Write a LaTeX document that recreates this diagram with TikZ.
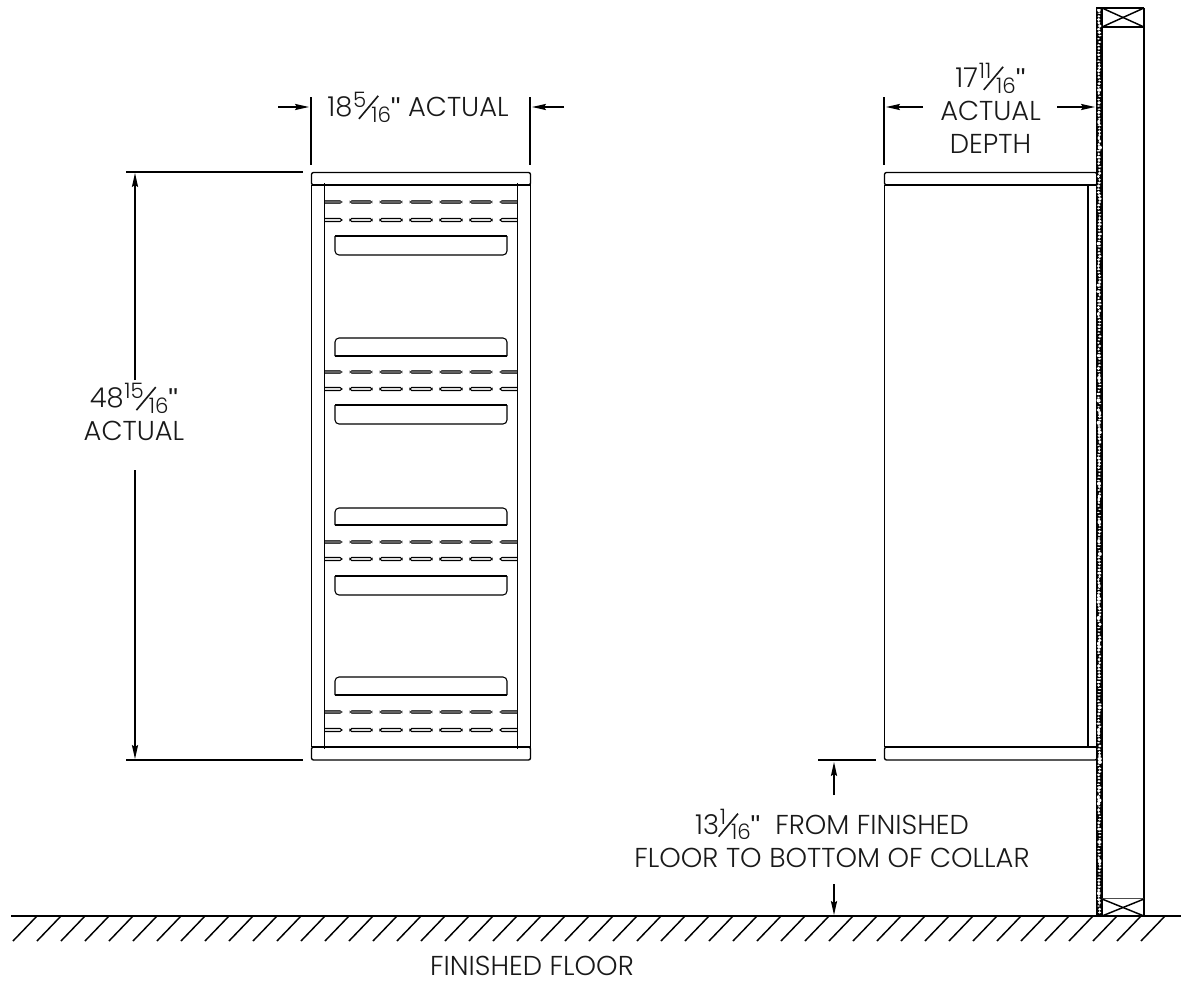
\documentclass[tikz,border=0pt]{standalone}
\usepackage{fontspec}
\setmainfont{Poppins Light}
\newfontfamily\inchfont{Liberation Sans}
\usetikzlibrary{arrows.meta}
\newcommand{\inch}{{\inchfont"}}
\newcommand{\frc}[2]{\kern0.03em\raisebox{0.35em}{\scalebox{0.78}{#1}}\kern-0.1em\makebox[0.36em]{\raisebox{-0.1em}{\rotatebox{50}{\rule{1.1em}{0.06em}}}}\kern-0.08em\raisebox{-0.2em}{\scalebox{0.78}{#2}}}
\tikzset{
 x=0.75pt,y=-0.75pt,
 dim/.style={line width=1.1pt,-{Stealth[length=10.5pt,width=4.6pt,inset=1.5pt]}},
 ext/.style={line width=1.1pt},
 thin line/.style={line width=0.8pt},
 lbl/.style={font=\fontsize{20.5pt}{24.6pt}\selectfont,inner sep=0pt,align=center,text=black!90},
 lblone/.style={font=\fontsize{20.5pt}{24.6pt}\selectfont,inner sep=0pt,text=black!90},
 collar/.style={line width=1pt,rounded corners=1.5pt},
}
\newcommand{\slotrow}[1]{%
 \foreach \a/\b in {350/372,380/402,410/432,440/462,470/492}{
  \draw[line width=0.7pt,draw=black!75,fill=black!60,rounded corners=1.3pt] (\a,#1-1.3) rectangle (\b,#1+1.3);}
 \draw[line width=0.7pt,draw=black!75,fill=black!60] (325,#1-1.3) -- (340,#1-1.3) -- (342,#1) -- (340,#1+1.3) -- (325,#1+1.3);
 \draw[line width=0.7pt,draw=black!75,fill=black!60] (517,#1-1.3) -- (502,#1-1.3) -- (500,#1) -- (502,#1+1.3) -- (517,#1+1.3);
}
\newcommand{\slotrowo}[1]{%
 \foreach \a/\b in {350/372,380/402,410/432,440/462,470/492}{
  \draw[line width=0.8pt,fill=white,rounded corners=1.3pt] (\a,#1-1.5) rectangle (\b,#1+1.5);}
 \draw[line width=0.8pt] (325,#1-1.5) -- (340,#1-1.5) -- (342,#1) -- (340,#1+1.5) -- (325,#1+1.5);
 \draw[line width=0.8pt] (517,#1-1.5) -- (502,#1-1.5) -- (500,#1) -- (502,#1+1.5) -- (517,#1+1.5);
}
\newcommand{\shelfdown}[2]{% thick top, rounded bottom
 \draw[line width=0.8pt,rounded corners=3pt] (335,#1) -- (335,#2) -- (507,#2) -- (507,#1);
 \draw[line width=1.5pt] (335,#1) -- (507,#1);
}
\newcommand{\shelfup}[2]{% rounded top, thick bottom
 \draw[line width=0.8pt,rounded corners=3pt] (335,#2) -- (335,#1) -- (507,#1) -- (507,#2);
 \draw[line width=1.5pt] (335,#2) -- (507,#2);
}
\begin{document}
\begin{tikzpicture}
\useasboundingbox (0,0) rectangle (1181,981);
% front view
\draw[collar] (311.5,172.5) rectangle (530.5,185);
\draw[collar] (311.5,747) rectangle (530.5,760);
\draw[line width=1.3pt] (311.5,185) -- (530.5,185);
\draw[line width=1.3pt] (311.5,747) -- (530.5,747);
\draw[thin line] (311.5,185) -- (311.5,747);
\draw[thin line] (530.5,185) -- (530.5,747);
\draw[thin line] (324.5,183) -- (324.5,749);
\draw[thin line] (517.5,183) -- (517.5,749);
\slotrow{202}\slotrowo{220}
\shelfdown{236}{255}
\shelfup{338}{356}
\slotrow{372}\slotrowo{389}
\shelfdown{405}{424}
\shelfup{508}{525}
\slotrow{542}\slotrowo{559}
\shelfdown{576}{595}
\shelfup{677}{695}
\slotrow{712}\slotrowo{730}
% front dimensions
\draw[ext] (311,97) -- (311,165);
\draw[ext] (530,97) -- (530,165);
\draw[dim] (278,107) -- (309,107);
\draw[dim] (564,107) -- (532,107);
\draw[ext] (126,172) -- (303,172);
\draw[ext] (126,760) -- (303,760);
\draw[dim] (135,380) -- (135,173);
\draw[dim] (135,470) -- (135,759);
\node[lbl] (w) at (418,107) {18\frc{5}{16}\inch\ ACTUAL};
\node[lbl] (h) at (134,412) {48\frc{15}{16}\inch\\ACTUAL};
% side view
\draw[collar] (884.5,172.5) rectangle (1097,185);
\draw[collar] (884.5,747) rectangle (1097,760);
\draw[line width=1.3pt] (884.5,185) -- (1097,185);
\draw[line width=1.3pt] (884.5,747) -- (1097,747);
\draw[line width=1.1pt] (884.5,185) -- (884.5,572);
\draw[line width=0.7pt] (884.5,572) -- (884.5,747);
\draw[thin line] (1088,185) -- (1088,747);
% wall
\fill (1096,8) rectangle (1102.5,916);
\pgfmathsetseed{11}
\foreach \yy in {10,13.2,...,914}{
 \pgfmathsetmacro{\ww}{1.2+0.9*rnd}
 \pgfmathsetmacro{\hh}{0.7+1.5*rnd}
 \pgfmathsetmacro{\xx}{1098.4+rnd*1.5}
 \fill[white] (\xx,\yy) ellipse[x radius=\ww,y radius=\hh];
}
\draw[line width=1.3pt] (1102.5,8) -- (1102.5,916);
\draw[line width=1.5pt] (1144,8) -- (1144,916);
\draw[line width=1.5pt] (1096,8) -- (1144,8);
\draw[line width=1.1pt] (1102,27) -- (1144,27);
\draw[line width=1.1pt] (1102,8) -- (1144,27);
\draw[line width=1.1pt] (1144,8) -- (1102,27);
\draw[line width=0.9pt,black!70] (1102,898.5) -- (1144,898.5);
\draw[line width=1.1pt] (1102,899) -- (1144,916);
\draw[line width=1.1pt] (1144,899) -- (1102,916);
% side dimensions
\draw[ext] (884,97) -- (884,165);
\draw[dim] (923,107) -- (886,107);
\draw[dim] (1057,107) -- (1095,107);
\node[lbl] (d) at (990.5,108) {17\frc{11}{16}\inch\\ACTUAL\\DEPTH};
\draw[ext] (818,760) -- (876,760);
\draw[dim] (834,795) -- (834,762);
\draw[dim] (834,884) -- (834,915);
\node[lbl] (c) at (832,838.5) {13\frc{1}{16}\inch\ \ FROM FINISHED\\FLOOR TO BOTTOM OF COLLAR};
% floor
\draw[line width=1.1pt] (11,916) -- (1181,916);
\foreach \k in {0,...,47}{
 \draw[line width=1.1pt] ({37+24*\k},916) -- ({13+24*\k},941);
}
\node[lblone] (f) at (532,966) {FINISHED FLOOR};
\end{tikzpicture}
\end{document}
